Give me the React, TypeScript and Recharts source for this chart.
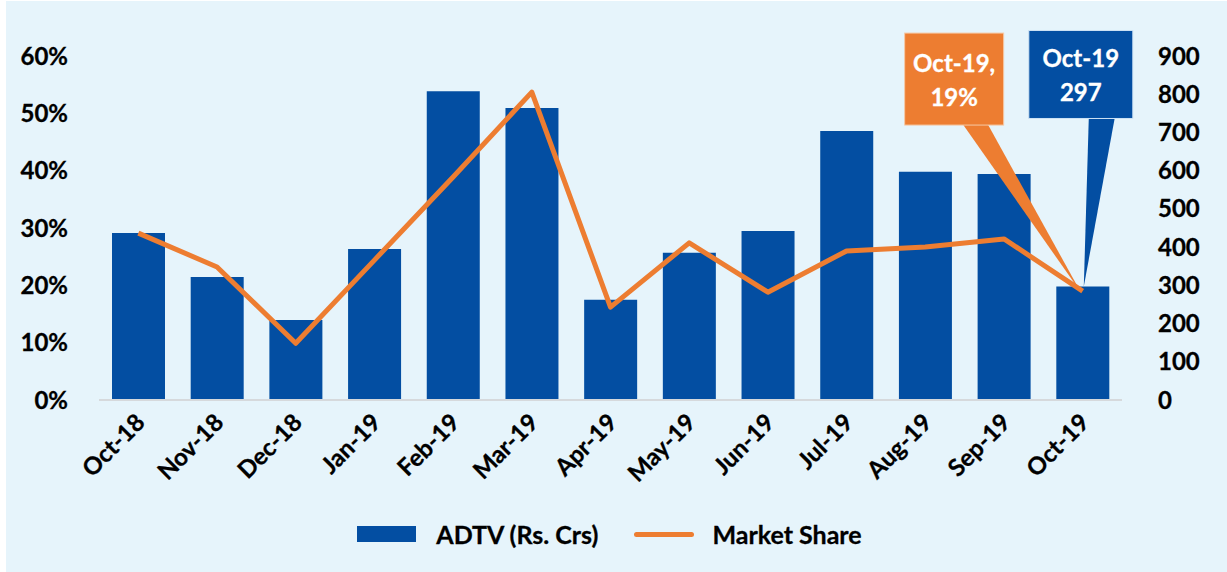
import { ComposedChart, Bar, Line, XAxis, YAxis, Legend, LabelList } from "recharts";

const months = [
  "Oct-18", "Nov-18", "Dec-18", "Jan-19", "Feb-19", "Mar-19", "Apr-19",
  "May-19", "Jun-19", "Jul-19", "Aug-19", "Sep-19", "Oct-19",
];
// ADTV in Rs. Crs (right axis)
const adtv = [437, 322, 209, 395, 808, 764, 262, 385, 442, 704, 597, 591, 297];
// market share in % (left axis)
const marketShare = [29.1, 23.2, 9.9, 24.4, 38.9, 53.7, 16.2, 27.4, 18.8, 26.0, 26.7, 28.1, 19];
const shareTicks = [0, 10, 20, 30, 40, 50, 60];
const adtvTicks = [0, 100, 200, 300, 400, 500, 600, 700, 800, 900];

const data = months.map((month, i) => ({ month, adtv: adtv[i], share: marketShare[i] }));

const BLUE = "#034EA2";
const ORANGE = "#ED7D31";
const BG = "#E6F4FB";
const FONT = "Lato, 'Open Sans', sans-serif";
const last = months.length - 1;

const tickStyle = {
  fontFamily: FONT,
  fontWeight: 700,
  fontSize: 24,
  fill: "#000",
  stroke: "#000",
  strokeWidth: 0.3,
};
const whiteText = { ...tickStyle, fill: "#fff", stroke: "#fff" };

const MonthTick = ({ x, y, payload }: any) => {
  const px = x + 8;
  const py = y + 24;
  return (
    <text x={px} y={py} transform={`rotate(-45 ${px} ${py})`} textAnchor="end" {...tickStyle}>
      {payload.value}
    </text>
  );
};

// callout above the last bar
const AdtvCallout = (props: any) => {
  if (props.index !== last) return null;
  const cx = props.x + props.width / 2;
  const top = props.y;
  const bx = cx - 54;
  const by = top - 256;
  const mid = bx + 52;
  return (
    <g>
      <polygon points={`${cx + 6},${top - 169} ${cx + 32},${top - 169} ${cx + 1},${top}`} fill={BLUE} />
      <rect x={bx} y={by} width={104} height={88} fill={BLUE} stroke="#cfe3f5" strokeWidth={1} />
      <text x={mid} y={top - 219} textAnchor="middle" {...whiteText}>{months[last]}</text>
      <text x={mid} y={top - 185} textAnchor="middle" {...whiteText}>{props.value}</text>
    </g>
  );
};

// callout for the last market share point
const ShareCallout = (props: any) => {
  if (props.index !== last) return null;
  const px = props.x;
  const py = props.y;
  const bx = px - 178;
  const by = py - 258;
  const mid = bx + 49.5;
  return (
    <g>
      <polygon points={`${px - 120},${py - 167} ${px - 95},${py - 167} ${px - 2},${py + 1}`} fill={ORANGE} />
      <rect x={bx} y={by} width={99} height={92} fill={ORANGE} stroke="#f6c9a6" strokeWidth={1} />
      <text x={mid} y={py - 219} textAnchor="middle" {...whiteText}>{months[last]},</text>
      <text x={mid} y={py - 185} textAnchor="middle" {...whiteText}>{props.value}%</text>
    </g>
  );
};

const LegendContent = ({ payload }: any) => (
  <div
    style={{
      display: "flex",
      justifyContent: "center",
      alignItems: "center",
      height: 30,
      fontFamily: FONT,
      fontWeight: 700,
      fontSize: 25,
      color: "#000",
      WebkitTextStroke: "0.3px #000",
      paddingRight: 8,
    }}
  >
    {(payload || []).map((entry: any, i: number) => (
      <div key={i} style={{ display: "flex", alignItems: "center", marginLeft: i === 0 ? 0 : 36 }}>
        {entry.type === "line" ? (
          <span style={{ width: 60, height: 5, borderRadius: 3, background: ORANGE, marginRight: 18 }} />
        ) : (
          <span style={{ width: 59, height: 16, background: BLUE, marginRight: 20 }} />
        )}
        <span>{entry.value}</span>
      </div>
    ))}
  </div>
);

export default function App() {
  return (
    <div style={{ position: "absolute", left: 0, top: 0, width: 1227, height: 572, background: "#fff" }}>
      <div style={{ position: "absolute", left: 6, top: 1, right: 0, bottom: 0, background: BG }} />
      <div style={{ position: "absolute", left: 0, top: 0 }}>
        <ComposedChart width={1227} height={572} data={data} margin={{ top: 56, right: 0, bottom: 23, left: 0 }}>
          <XAxis
            dataKey="month"
            height={119}
            interval={0}
            tickLine={false}
            tickSize={0}
            tickMargin={0}
            axisLine={{ stroke: "#D6D9DC", strokeWidth: 2 }}
            tick={<MonthTick />}
          />
          <YAxis
            yAxisId="left"
            width={99}
            domain={[0, 60]}
            ticks={shareTicks}
            interval={0}
            axisLine={false}
            tickLine={false}
            tickSize={0}
            tickMargin={31}
            tickFormatter={(v) => `${v}%`}
            tick={tickStyle}
          />
          <YAxis
            yAxisId="right"
            orientation="right"
            width={105}
            domain={[0, 900]}
            ticks={adtvTicks}
            interval={0}
            axisLine={false}
            tickLine={false}
            tickSize={0}
            tickMargin={36}
            tick={{ ...tickStyle, textAnchor: "start" }}
          />
          <Legend verticalAlign="bottom" content={<LegendContent />} />
          <Bar yAxisId="right" dataKey="adtv" name="ADTV (Rs. Crs)" fill={BLUE} barSize={53} legendType="rect" isAnimationActive={false}>
            <LabelList dataKey="adtv" content={<AdtvCallout />} />
          </Bar>
          <Line
            yAxisId="left"
            dataKey="share"
            name="Market Share"
            stroke={ORANGE}
            strokeWidth={5}
            strokeLinejoin="round"
            dot={false}
            legendType="line"
            isAnimationActive={false}
          >
            <LabelList dataKey="share" content={<ShareCallout />} />
          </Line>
        </ComposedChart>
      </div>
    </div>
  );
}
